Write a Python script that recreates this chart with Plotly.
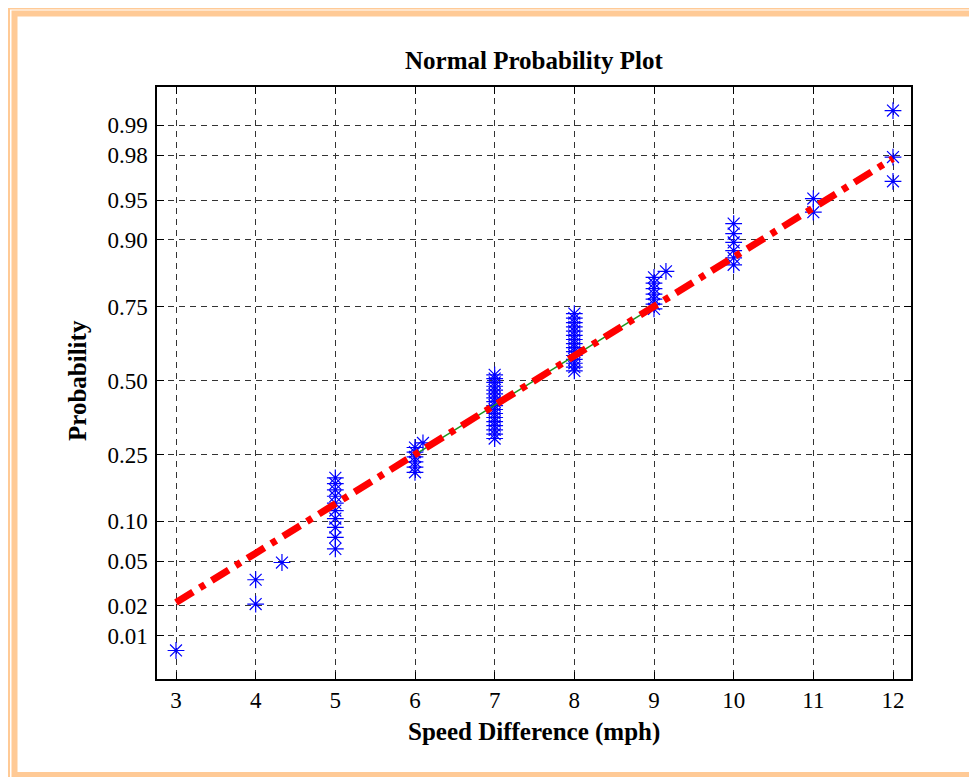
import numpy as np
import plotly.graph_objs as go
from statistics import NormalDist

speeds = [3, 4, 4.33, 5, 6, 6.1, 7, 8, 9, 9.15, 10, 11, 12]
counts = [1, 2, 1, 10, 6, 1, 17, 15, 7, 1, 6, 2, 3]

prob_ticks = [0.01, 0.02, 0.05, 0.10, 0.25, 0.50, 0.75, 0.90, 0.95, 0.98, 0.99]
prob_labels = ["0.01", "0.02", "0.05", "0.10", "0.25", "0.50", "0.75", "0.90", "0.95", "0.98", "0.99"]
x_ticks = [3, 4, 5, 6, 7, 8, 9, 10, 11, 12]

nd = NormalDist()

# --- Normal probability plot: plotting positions (i - 0.5) / n on a probit scale ---
x_data = np.repeat(speeds, counts)
n = len(x_data)
positions = (np.arange(1, n + 1) - 0.5) / n
z_data = [nd.inv_cdf(p) for p in positions]

# Reference line through the first and third quartiles (as normplot does)
q1, q3 = np.percentile(x_data, [25, 75], method="hazen")
z1, z3 = nd.inv_cdf(0.25), nd.inv_cdf(0.75)
slope = (z3 - z1) / (q3 - q1)
line_x = [x_data.min(), x_data.max()]
line_z = [z1 + slope * (v - q1) for v in line_x]
quart_x = [q1, q3]
quart_z = [z1, z3]

fig = go.Figure()

fig.add_trace(go.Scatter(
    x=x_data, y=z_data, mode="markers",
    marker=dict(symbol="asterisk-open", size=14, color="#0000FF",
                line=dict(color="#0000FF", width=1.2)),
    showlegend=False, hoverinfo="x+y"
))

fig.add_trace(go.Scatter(
    x=quart_x, y=quart_z, mode="lines",
    line=dict(color="#1E961E", width=1.5),
    showlegend=False
))

fig.add_trace(go.Scatter(
    x=line_x, y=line_z, mode="lines",
    line=dict(color="#FF0000", width=7, dash="20px,8px,6px,8px"),
    showlegend=False
))

# --- Plot area in figure pixels (page is offset 8px by the body margin) ---
W, H = 969, 769
L, R, T, B = 149, 903, 79, 671


def px(xp):
    return (xp - L) / (R - L)


def py(yp):
    return (B - yp) / (B - T)


border = "#FFCA96"
shapes = [
    dict(type="rect", xref="paper", yref="paper",
         x0=px(1), x1=px(990), y0=py(0.5), y1=py(790),
         line=dict(color=border, width=2)),
    dict(type="rect", xref="paper", yref="paper",
         x0=px(6.5), x1=px(980), y0=py(5.5), y1=py(767),
         line=dict(color=border, width=6)),
]

serif = "Liberation Serif"
label_font = dict(family=serif, size=25, color="black", weight="bold")
annotations = [
    dict(text="Normal Probability Plot", xref="paper", yref="paper",
         x=px(526), y=py(52), xanchor="center", yanchor="middle",
         showarrow=False, font=label_font),
    dict(text="Speed Difference (mph)", xref="paper", yref="paper",
         x=px(526), y=py(724), xanchor="center", yanchor="middle",
         showarrow=False, font=label_font),
    dict(text="Probability", xref="paper", yref="paper",
         x=px(69), y=py(373), xanchor="center", yanchor="middle",
         showarrow=False, textangle=-90, font=label_font),
]

axis_common = dict(
    showline=True, linecolor="black", linewidth=1.5, mirror="ticks",
    ticks="inside", ticklen=7, tickwidth=1, tickcolor="black",
    showgrid=True, gridcolor="#333333", gridwidth=1, griddash="6px,5px",
    zeroline=False,
    tickfont=dict(family=serif, size=23, color="black"),
)

fig.update_layout(
    width=W, height=H,
    margin=dict(l=L, r=W - R, t=T, b=H - B, pad=0),
    paper_bgcolor="white", plot_bgcolor="white",
    xaxis=dict(range=[2.7615, 12.226], tickvals=x_ticks, **axis_common),
    yaxis=dict(range=[-2.72, 2.675],
               tickvals=[nd.inv_cdf(p) for p in prob_ticks],
               ticktext=prob_labels, ticklabelstandoff=3, **axis_common),
    shapes=shapes,
    annotations=annotations,
)

fig.write_html("out.html")
